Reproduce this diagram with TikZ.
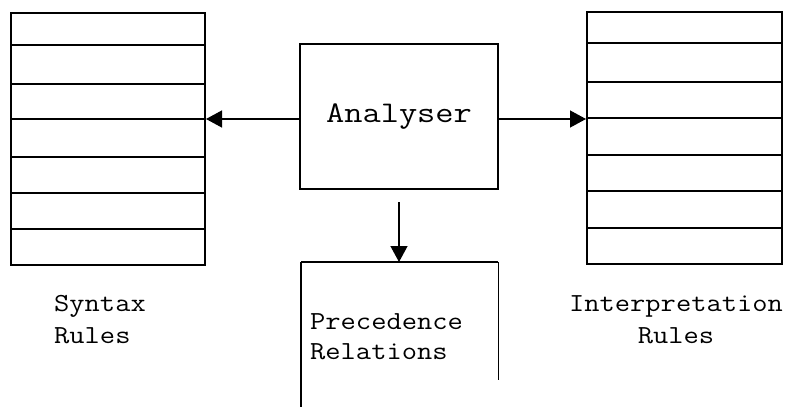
\documentclass[tikz,border=0pt]{standalone}
\usepackage{graphicx}
\usetikzlibrary{arrows.meta}
\newcommand\stretchtext[3]{\scalebox{#1}[1]{\begin{tabular}{@{}#2@{}}#3\end{tabular}}}
\begin{document}
\begin{tikzpicture}[x=1pt,y=-1pt,
  tbl/.style={draw,line width=2pt,rectangle,inner sep=0pt},
  rowline/.style={line width=1.6pt},
  arr/.style={line width=1.3pt,-{Triangle[length=16pt,width=17pt]}},
  lbl/.style={font=\ttfamily\fontsize{26}{32}\selectfont,inner sep=0pt},
  box/.style={draw,line width=1.9pt,rectangle,inner sep=0pt}]
\useasboundingbox (0,0) rectangle (789,407);
% left table
\node[tbl,minimum width=194pt,minimum height=252pt] (syn) at (108,139) {};
\foreach \y in {45,84,119,157,193,229}
  \draw[rowline] (syn.west |- 0,\y) -- (syn.east |- 0,\y);
% right table
\node[tbl,minimum width=195pt,minimum height=252pt] (interp) at (684.5,138) {};
\foreach \y in {43,82,118,155,191,228}
  \draw[rowline] (interp.west |- 0,\y) -- (interp.east |- 0,\y);
% analyser
\node[box,minimum width=198pt,minimum height=145pt,
  font=\ttfamily\fontsize{30}{36}\selectfont] (ana) at (399,116.5)
  {\scalebox{1.18}[1]{Analyser}};
\draw[arr] ([yshift=-2.5pt]ana.west) -- ([yshift=-2.5pt]ana.west -| syn.east);
\draw[arr] ([yshift=-2.5pt]ana.east) -- ([yshift=-2.5pt]ana.east -| interp.west);
% precedence (open box)
\coordinate (dstart) at (399,202);
\coordinate (ptop) at (399,262);
\draw[arr] (dstart) -- (ptop);
\draw[line width=1.9pt] (301,262) -- (498,262);
\draw[line width=2.4pt] (301,262) -- (301,407);
\draw[line width=1pt] (498,262) -- (498,380);
\node[lbl,font=\ttfamily\fontsize{26}{30}\selectfont,anchor=west] (prec) at (310,338.5) {\stretchtext{1.14}{l}{Precedence\\Relations}};
% labels
\node[lbl,anchor=west] (synl) at (54,321.5) {\stretchtext{1.14}{l}{Syntax\\Rules}};
\node[lbl] (intl) at (676,321.5) {\stretchtext{1.14}{c}{Interpretation\\Rules}};
\end{tikzpicture}
\end{document}
